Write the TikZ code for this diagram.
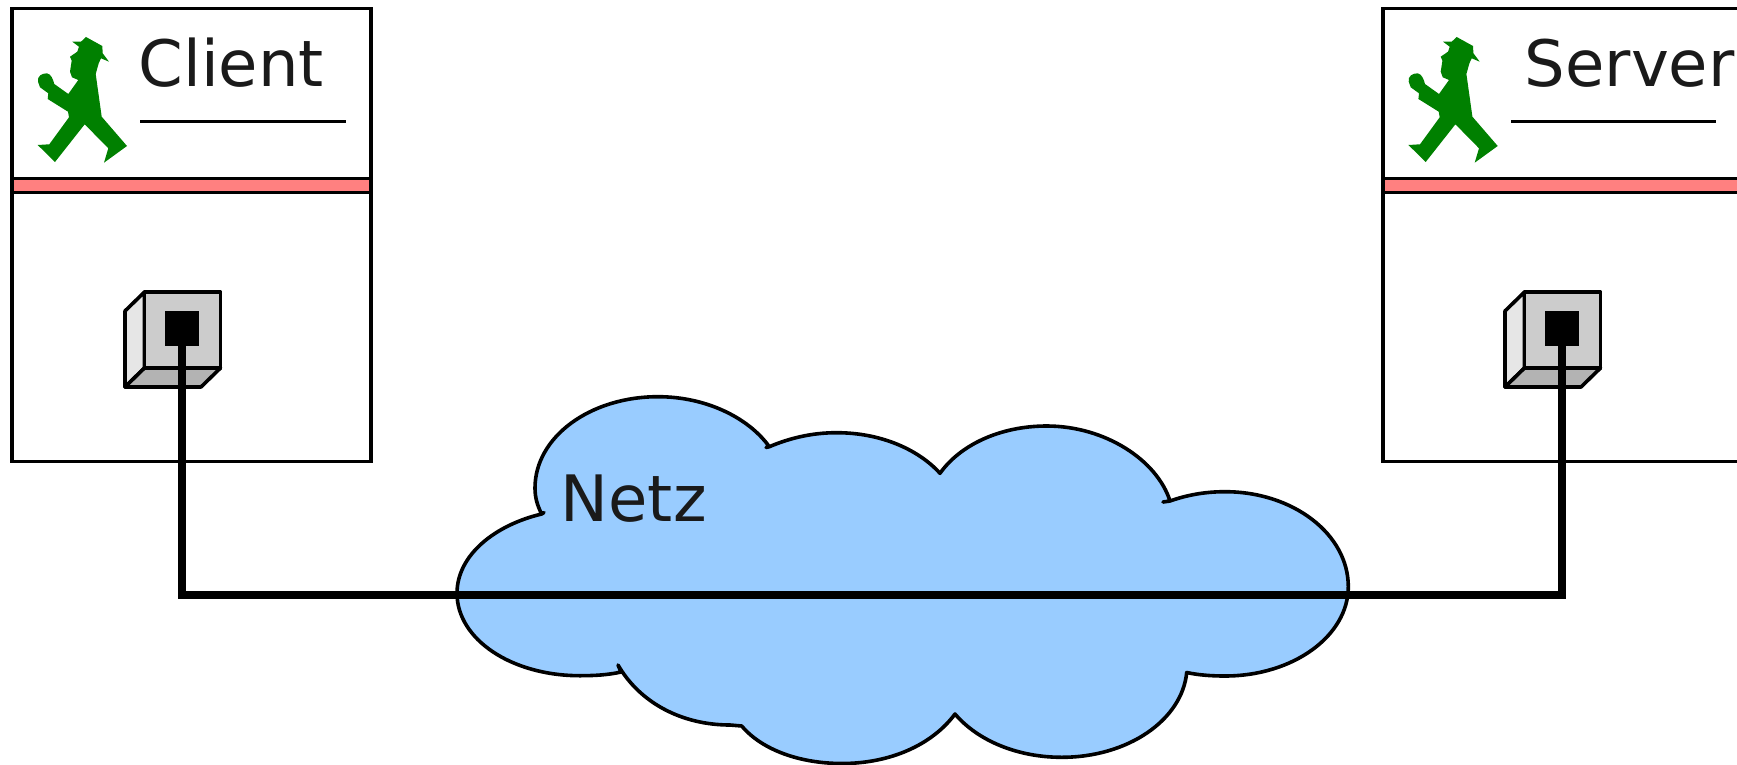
\documentclass[tikz,border=0pt]{standalone}
\usepackage{xcolor}
\usepackage{fontspec}
\setmainfont{DejaVu Sans}
\definecolor{ampel}{RGB}{0,128,0}
\definecolor{band}{RGB}{255,128,128}
\definecolor{wolke}{RGB}{153,204,255}
\definecolor{schrift}{RGB}{26,26,26}
\definecolor{front}{RGB}{204,204,204}
\definecolor{links}{RGB}{230,230,230}
\definecolor{unten}{RGB}{179,179,179}
\newcommand{\Largetitle}{\fontsize{64}{64}\selectfont}
\tikzstyle{host}=[draw,rectangle,inner sep=0,line width=3.6pt,minimum width=359pt,minimum height=453pt]
\tikzstyle{hostband}=[draw,rectangle,inner sep=0,line width=3.6pt,fill=band,minimum width=359pt,minimum height=14pt]
\tikzstyle{port}=[rectangle,inner sep=0,fill=black,minimum width=34pt,minimum height=35pt]
\tikzstyle{titel}=[anchor=base west,inner sep=0,text=schrift]
\tikzset{edge/.style={line width=3.6pt,line join=round}}
\tikzset{kabel/.style={line width=7.5pt}}
\tikzset{ampelmann/.pic={
  \fill[ampel] (72.3,41.7) -- (81,41.7) -- (86,37) -- (102.3,46) -- (102.7,53.3) -- (109,61.7) -- (101,58.3) -- (98.7,63.3) -- (95.7,74) -- (101.7,116.7) -- (127,146) -- (104,162.7) -- (108.3,148.3) -- (84.7,124.3) -- (55,162) -- (37.7,145) -- (49.3,144.3) -- (69,117.3) -- (68,111.7) -- (47.7,99) -- (48.3,93.3) -- (40,87.3) -- (38,81.7) .. controls (37,76) and (42,73.3) .. (47,73.3) .. controls (51,74) and (53,79) .. (54.3,84) -- (68.3,94) -- (78.3,80) -- (72,77.3) -- (70,71.7) -- (71.7,60.7) -- (70,56.7) -- (77.3,51.7) -- (79,46.7) -- cycle;
}}
\begin{document}
\begin{tikzpicture}[x=1pt,y=-1pt]
  \useasboundingbox (0,0) rectangle (1737,765);
  %% Client
  \draw (191.5,235) node[host] (H1) {};
  \draw (191.5,185.5) node[hostband] (B1) {};
  \pic at (0,0) {ampelmann};
  \draw (138.5,86.5) node[titel] (T1) {\Largetitle Client};
  \coordinate (R1a) at (140,121.5);
  \coordinate (R1b) at (345.5,121.5);
  \draw[edge] (R1a) -- (R1b);
  \draw[edge,fill=links] (125,311) -- (144.5,292) -- (144.5,368) -- (125,387) -- cycle;
  \draw[edge,fill=unten] (125,387) -- (144.5,368) -- (220.5,368) -- (201,387) -- cycle;
  \draw[edge,fill=front] (144.5,292) rectangle (220.5,368);
  \draw (182,328.5) node[port] (P1) {};

  %% Server
  \draw (1562.5,235) node[host] (H2) {};
  \draw (1562.5,185.5) node[hostband] (B2) {};
  \pic at (1370.7,0) {ampelmann};
  \draw (1524.5,86.5) node[titel] (T2) {\Largetitle Server};
  \coordinate (R2a) at (1511,121.5);
  \coordinate (R2b) at (1716,121.5);
  \draw[edge] (R2a) -- (R2b);
  \draw[edge,fill=links] (1505,311) -- (1524.5,292) -- (1524.5,368) -- (1505,387) -- cycle;
  \draw[edge,fill=unten] (1505,387) -- (1524.5,368) -- (1600.5,368) -- (1581,387) -- cycle;
  \draw[edge,fill=front] (1524.5,292) rectangle (1600.5,368);
  \draw (1562,328.5) node[port] (P2) {};

  %% Netz
  \draw[edge,fill=wolke] (541.7,514) .. controls (537,505) and (535,497) .. (535,488)
    .. controls (535,437) and (590,396.7) .. (658,396.7)
    .. controls (705,396.7) and (748,417) .. (769.3,446.7)
    -- (766,447.5) -- (769.3,446.7)
    .. controls (790,438) and (812,432.7) .. (836.7,432.7)
    .. controls (880,432.7) and (918,449) .. (940,473.3)
    .. controls (960,445) and (1000,426) .. (1046.7,426)
    .. controls (1105,426) and (1157,460) .. (1170,501)
    -- (1163,502) -- (1170,501)
    .. controls (1187,495) and (1205,491.7) .. (1225,491.7)
    .. controls (1293,491.7) and (1348.3,534) .. (1348.3,586.7)
    .. controls (1348.3,636) and (1293,676) .. (1225,676)
    .. controls (1211,676) and (1198,675) .. (1186.7,672.5)
    .. controls (1182,720) and (1128,757.3) .. (1061.7,757.3)
    .. controls (1018,757.3) and (978,741) .. (955,714)
    .. controls (932,745) and (890,763.5) .. (842,763.5)
    .. controls (800,763.5) and (762,750) .. (741.7,726)
    -- (730,725)
    .. controls (682,725) and (640,703) .. (618,665)
    -- (621,672)
    .. controls (608,675) and (594,675.7) .. (580,675.7)
    .. controls (511,675.7) and (457,639) .. (457,593.3)
    .. controls (457,555) and (495,525) .. (541.7,514) -- (544,512.5) -- (541.7,514) -- cycle;
  \draw (560.5,521.5) node[titel] (N) {\Largetitle Netz};

  %% Kabel
  \coordinate (K) at (872,595);
  \draw[kabel] (P1.center) |- (K) -| (P2.center);
\end{tikzpicture}
\end{document}
